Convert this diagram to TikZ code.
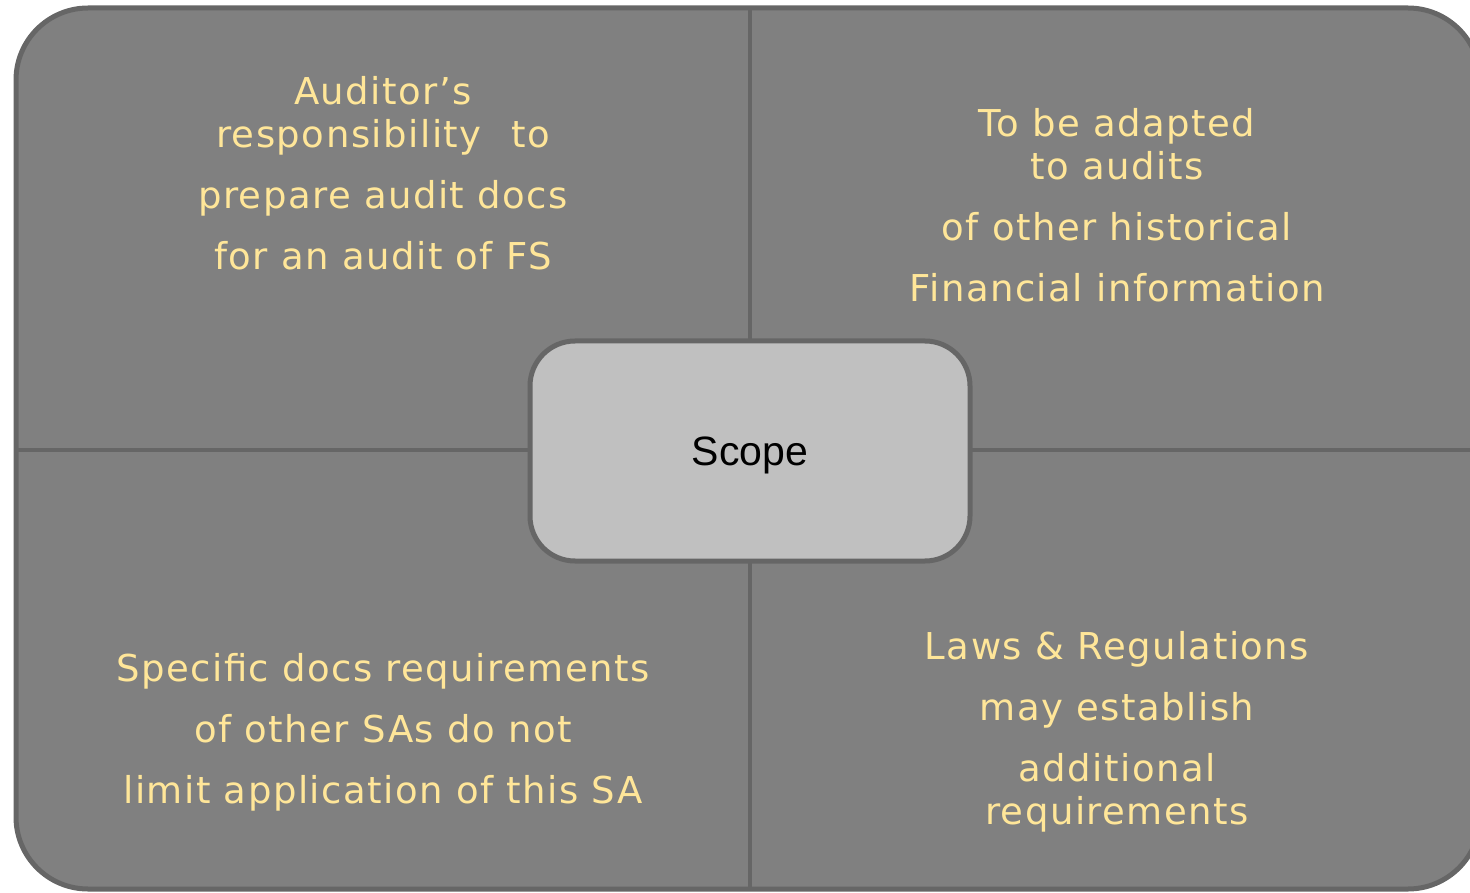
\documentclass[tikz,border=0pt]{standalone}
\usepackage{fontspec}
\setmainfont{DejaVu Sans}[LetterSpace=4]
\newfontfamily\scopefont{Liberation Sans}
\usetikzlibrary{positioning}
\definecolor{panelgray}{HTML}{808080}
\definecolor{edgegray}{HTML}{666666}
\definecolor{boxgray}{HTML}{C0C0C0}
\definecolor{txtyellow}{HTML}{FFE699}
\tikzset{
  quadtxt/.style={anchor=base, inner sep=0pt, text=txtyellow,
    font=\fontsize{37}{43}\selectfont},
  scopebox/.style={draw=edgegray, line width=5pt, fill=boxgray,
    rounded corners=45pt, minimum width=440pt, minimum height=220pt,
    text depth=0pt, font=\scopefont\fontsize{41}{48}\selectfont},
  divider/.style={draw=edgegray, line width=4pt}
}

\begin{document}
\begin{tikzpicture}[x=1pt, y=-1pt]
        \useasboundingbox (0,0) rectangle (1470,893);
        % outer panel
        \filldraw[fill=panelgray, draw=edgegray, line width=5pt, rounded corners=72pt]
            (16,8) rectangle (1480,889);
        \coordinate (top) at (750,8);
        \coordinate (bot) at (750,889);
        \coordinate (lft) at (16,450);
        \coordinate (rgt) at (1480,450);
        \draw[divider] (top) -- (bot);
        \draw[divider] (lft) -- (rgt);

        % upper left
        \foreach \y/\t [count=\i] in {105/Auditor’s,
            148/responsibility\hspace{0.8em}to,
            209/prepare audit docs,
            270/for an audit of FS}
            \node[quadtxt] (ul\i) at (383,\y) {\t};

        % upper right
        \foreach \y/\t [count=\i] in {137/To be adapted,
            180/to audits,
            241/of other historical,
            302/Financial information}
            \node[quadtxt] (ur\i) at (1117,\y) {\t};

        % lower left
        \foreach \y/\t [count=\i] in {681/Specific docs requirements,
            742/of other SAs do not,
            803/limit application of this SA}
            \node[quadtxt] (ll\i) at (383,\y) {\t};

        % lower right
        \foreach \y/\t [count=\i] in {659/Laws \& Regulations,
            720/may establish,
            781/additional,
            824/requirements}
            \node[quadtxt] (lr\i) at (1117,\y) {\t};

        \node[scopebox] (scope) at (750,451) {Scope};
\end{tikzpicture}
\end{document}
